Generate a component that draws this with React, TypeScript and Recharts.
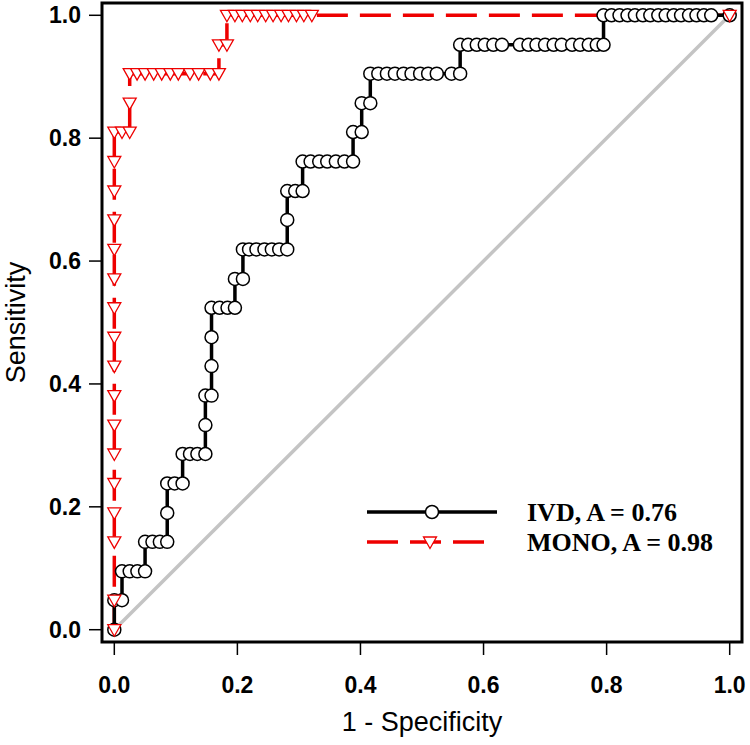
import { Legend, Line, LineChart, ReferenceArea, XAxis, YAxis } from "recharts";

const RED = "#ee0000";
const GRAY = "#c4c4c4";
const SANS = "'Liberation Sans', Arial, sans-serif";
const SERIF = "'Liberation Serif', 'Times New Roman', serif";

// IVD curve (1 - specificity, sensitivity)
const ivdFpr = [
  0, 0, 0.0125, 0.0125, 0.025, 0.0375, 0.05, 0.05, 0.062, 0.074, 0.086, 0.086,
  0.086, 0.098, 0.111, 0.111, 0.123, 0.135, 0.148, 0.148, 0.148, 0.158, 0.158,
  0.158, 0.158, 0.171, 0.184, 0.196, 0.196, 0.209, 0.209, 0.219, 0.231, 0.244,
  0.256, 0.268, 0.281, 0.281, 0.281, 0.294, 0.306, 0.306, 0.319, 0.333, 0.346,
  0.36, 0.374, 0.388, 0.388, 0.402, 0.402, 0.416, 0.416, 0.429, 0.443, 0.456,
  0.47, 0.483, 0.497, 0.51, 0.524, 0.548, 0.562, 0.562, 0.575, 0.589, 0.602,
  0.616, 0.63, 0.659, 0.673, 0.686, 0.7, 0.714, 0.727, 0.744, 0.757, 0.771,
  0.784, 0.795, 0.795, 0.808, 0.821, 0.834, 0.846, 0.859, 0.871, 0.884, 0.896,
  0.909, 0.921, 0.934, 0.946, 0.958, 0.97, 1,
];
const ivdTpr = [
  0, 0.048, 0.048, 0.095, 0.095, 0.095, 0.095, 0.143, 0.143, 0.143, 0.143, 0.19,
  0.238, 0.238, 0.238, 0.286, 0.286, 0.286, 0.286, 0.333, 0.381, 0.381, 0.429,
  0.476, 0.524, 0.524, 0.524, 0.524, 0.571, 0.571, 0.619, 0.619, 0.619, 0.619,
  0.619, 0.619, 0.619, 0.667, 0.714, 0.714, 0.714, 0.762, 0.762, 0.762, 0.762,
  0.762, 0.762, 0.762, 0.81, 0.81, 0.857, 0.857, 0.905, 0.905, 0.905, 0.905,
  0.905, 0.905, 0.905, 0.905, 0.905, 0.905, 0.905, 0.952, 0.952, 0.952, 0.952,
  0.952, 0.952, 0.952, 0.952, 0.952, 0.952, 0.952, 0.952, 0.952, 0.952, 0.952,
  0.952, 0.952, 1, 1, 1, 1, 1, 1, 1, 1, 1,
  1, 1, 1, 1, 1, 1, 1,
];

// MONO curve
const monoFpr = [
  0, 0, 0, 0, 0, 0, 0, 0, 0, 0, 0, 0, 0, 0, 0, 0, 0, 0.0125, 0.025, 0.025,
  0.025, 0.037, 0.05, 0.064, 0.077, 0.091, 0.104, 0.123, 0.137, 0.156, 0.17,
  0.17, 0.183, 0.183, 0.196, 0.208, 0.221, 0.233, 0.246, 0.258, 0.271, 0.283,
  0.296, 0.308, 0.321, 1,
];
const monoTpr = [
  0, 0.048, 0.143, 0.19, 0.238, 0.286, 0.333, 0.381, 0.429, 0.476, 0.524,
  0.571, 0.619, 0.667, 0.714, 0.762, 0.81, 0.81, 0.81, 0.857, 0.905, 0.905,
  0.905, 0.905, 0.905, 0.905, 0.905, 0.905, 0.905, 0.905, 0.905, 0.952, 0.952,
  1, 1, 1, 1, 1, 1, 1, 1, 1, 1, 1, 1, 1,
];

// reference diagonal
const chanceFpr = [0, 1];
const chanceTpr = [0, 1];

const xTicks = [0, 0.2, 0.4, 0.6, 0.8, 1.0];
const yTicks = [0, 0.2, 0.4, 0.6, 0.8, 1.0];
const legendLabels = ["IVD, A = 0.76", "MONO, A = 0.98"];

const toPoints = (xs: number[], ys: number[]) =>
  xs.map((x, i) => ({ x, y: ys[i] }));

const ivdData = toPoints(ivdFpr, ivdTpr);
const monoData = toPoints(monoFpr, monoTpr);
const chanceData = toPoints(chanceFpr, chanceTpr);

function trianglePath(cx: number, cy: number) {
  return `M${cx - 6.5},${cy - 5} L${cx + 6.5},${cy - 5} L${cx},${cy + 6.5} Z`;
}

function TriangleDot(props: any) {
  const { cx, cy, index } = props;
  if (cx == null || cy == null) return <g key={`tri-${index}`} />;
  return (
    <path
      key={`tri-${index}`}
      d={trianglePath(cx, cy)}
      fill="#fff"
      stroke={RED}
      strokeWidth={1.3}
    />
  );
}

function RocLegend() {
  return (
    <svg width={390} height={64}>
      {legendLabels.map((label, i) => {
        const y = 17 + i * 30;
        const isIvd = i === 0;
        return (
          <g key={label}>
            <line
              x1={7}
              x2={isIvd ? 137 : 124}
              y1={y}
              y2={y}
              stroke={isIvd ? "#000" : RED}
              strokeWidth={3.5}
              strokeDasharray={isIvd ? undefined : "31 12"}
            />
            {isIvd ? (
              <circle cx={72} cy={y} r={6.5} fill="#fff" stroke="#000" strokeWidth={1.5} />
            ) : (
              <path d={trianglePath(70, y)} fill="#fff" stroke={RED} strokeWidth={1.3} />
            )}
            <text
              x={167}
              y={y}
              dominantBaseline="central"
              fontFamily={SERIF}
              fontWeight="bold"
              fontSize={26}
              fill="#000"
            >
              {label}
            </text>
          </g>
        );
      })}
    </svg>
  );
}

const tickStyle = { fill: "#000", fontSize: 23, fontWeight: "bold", fontFamily: SANS };

export default function App() {
  return (
    <div style={{ position: "absolute", left: 0, top: 0, background: "#fff" }}>
      <LineChart
        width={750}
        height={745}
        margin={{ top: 3, right: 8, bottom: 0, left: 0 }}
      >
        <XAxis
          type="number"
          dataKey="x"
          domain={[-0.02, 1.02]}
          ticks={xTicks}
          tickFormatter={(v: number) => v.toFixed(1)}
          allowDataOverflow
          height={103}
          axisLine={false}
          tickSize={13}
          tickMargin={22}
          tickLine={{ stroke: "#000", strokeWidth: 1.5 }}
          tick={tickStyle}
          label={{
            value: "1 - Specificity",
            position: "insideBottom",
            offset: 14,
            style: { fill: "#000", fontSize: 27, fontFamily: SANS },
          }}
        />
        <YAxis
          type="number"
          dataKey="y"
          domain={[-0.02, 1.02]}
          ticks={yTicks}
          tickFormatter={(v: number) => v.toFixed(1)}
          allowDataOverflow
          width={102}
          axisLine={false}
          tickSize={13}
          tickMargin={8}
          tickLine={{ stroke: "#000", strokeWidth: 1.5 }}
          tick={tickStyle}
          label={{
            value: "Sensitivity",
            angle: -90,
            position: "insideLeft",
            offset: 15,
            style: { fill: "#000", fontSize: 27, fontFamily: SANS, textAnchor: "middle" },
          }}
        />
        <ReferenceArea
          x1={-0.02}
          x2={1.02}
          y1={-0.02}
          y2={1.02}
          fill="none"
          stroke="#000"
          strokeWidth={3}
          ifOverflow="visible"
        />
        <Line
          data={chanceData}
          dataKey="y"
          stroke={GRAY}
          strokeWidth={3.5}
          dot={false}
          isAnimationActive={false}
        />
        <Line
          data={monoData}
          dataKey="y"
          stroke={RED}
          strokeWidth={3.5}
          strokeDasharray="31 12"
          dot={false}
          isAnimationActive={false}
        />
        <Line
          data={ivdData}
          dataKey="y"
          stroke="#000"
          strokeWidth={3.5}
          dot={{ r: 6.5, fill: "#fff", stroke: "#000", strokeWidth: 1.5 }}
          isAnimationActive={false}
        />
        <Line
          data={monoData}
          dataKey="y"
          stroke="none"
          dot={TriangleDot}
          isAnimationActive={false}
        />
        <Legend
          layout="vertical"
          align="center"
          verticalAlign="middle"
          content={RocLegend}
          wrapperStyle={{ position: "absolute", left: 360, top: 495, width: 390 }}
        />
      </LineChart>
    </div>
  );
}
